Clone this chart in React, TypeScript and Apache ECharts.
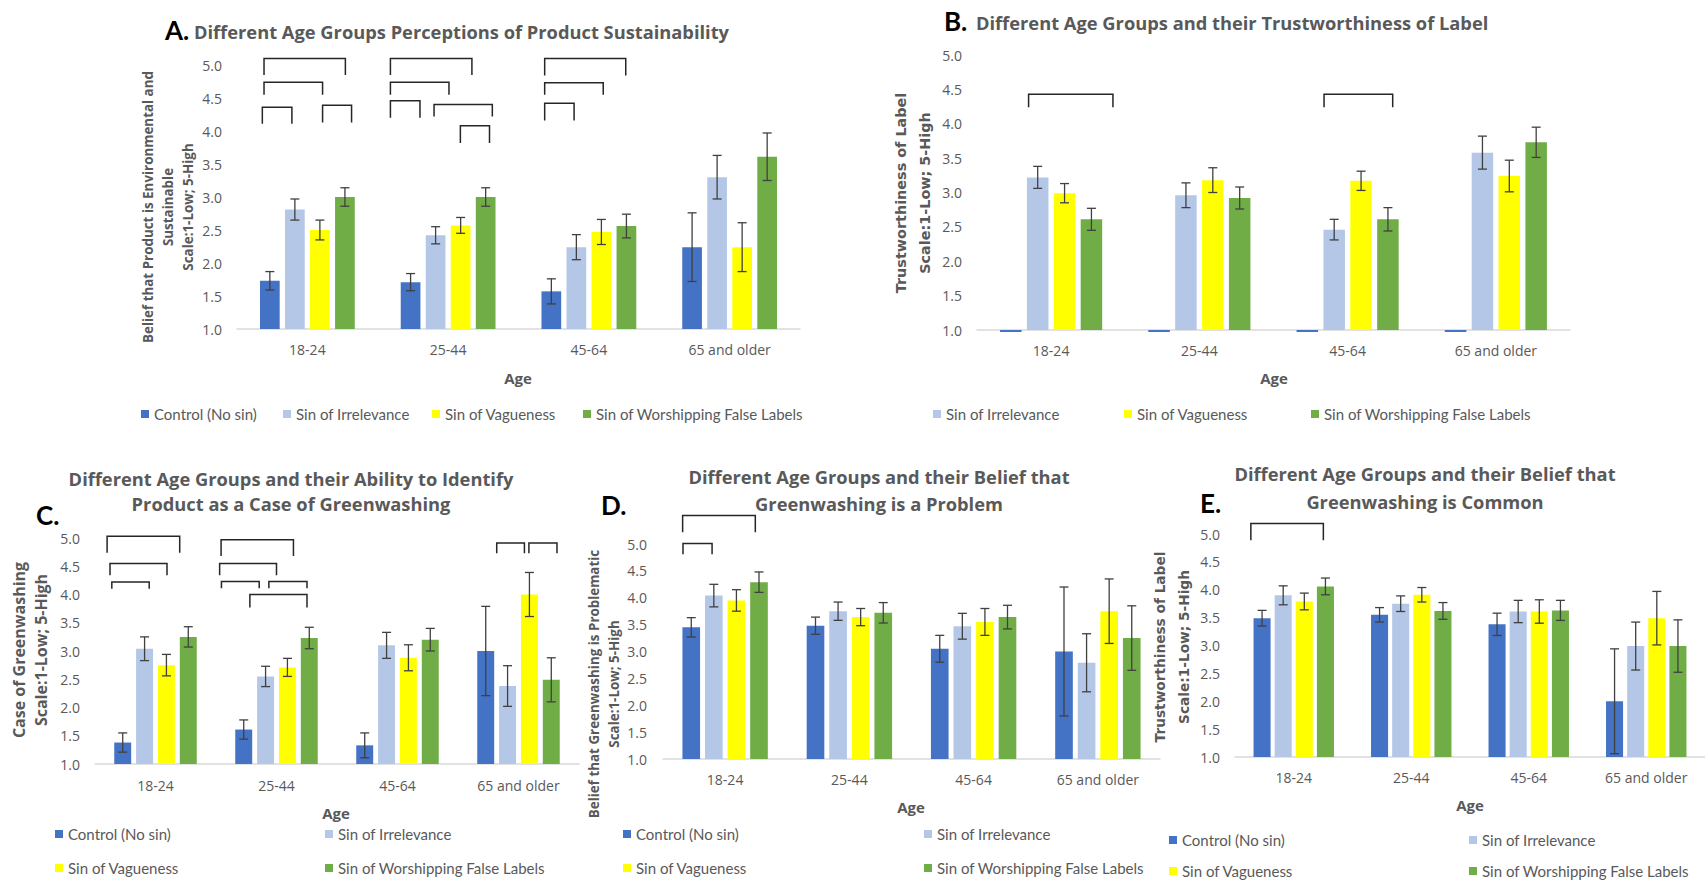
import React, { useEffect, useRef } from 'react';
import * as echarts from 'echarts';

// ---------- DATA ----------
const CATEGORIES = ['18-24', '25-44', '45-64', '65 and older'];
const SERIES_NAMES = ['Control (No sin)', 'Sin of Irrelevance', 'Sin of Vagueness', 'Sin of Worshipping False Labels'];
const COLORS = ['#4472C4', '#B4C7E7', '#FFFF00', '#70AD47'];
const Y_TICKS_MIN = 1;
const Y_TICKS_MAX = 5;
const Y_TICK_STEP = 0.5;

// Panel A: perceptions of product sustainability
const aControl = [1.73, 1.71, 1.57, 2.24];
const aControlErr = [0.14, 0.13, 0.19, 0.52];
const aIrrelevance = [2.81, 2.42, 2.24, 3.3];
const aIrrelevanceErr = [0.16, 0.13, 0.19, 0.33];
const aVagueness = [2.5, 2.57, 2.47, 2.24];
const aVaguenessErr = [0.15, 0.12, 0.19, 0.37];
const aWorshipping = [3.0, 3.0, 2.56, 3.61];
const aWorshippingErr = [0.14, 0.14, 0.18, 0.36];
// [category, left offset, right offset (band fractions), top value, foot value]
const aBrackets = [
  [0, -0.308, 0.27, 5.1, 4.85], [0, -0.308, 0.108, 4.74, 4.55], [0, -0.32, -0.11, 4.36, 4.11], [0, 0.108, 0.314, 4.39, 4.13],
  [1, -0.41, 0.169, 5.1, 4.85], [1, -0.41, 0.006, 4.74, 4.55], [1, -0.41, -0.2, 4.46, 4.2], [1, -0.1, 0.314, 4.4, 4.22], [1, 0.087, 0.294, 4.08, 3.82],
  [2, -0.314, 0.262, 5.1, 4.84], [2, -0.314, 0.102, 4.73, 4.55], [2, -0.314, -0.105, 4.42, 4.16],
];

// Panel B: trustworthiness of label
const bControl = [0.97, 0.97, 0.97, 0.97];
const bControlErr = [0, 0, 0, 0];
const bIrrelevance = [3.22, 2.96, 2.46, 3.58];
const bIrrelevanceErr = [0.16, 0.18, 0.15, 0.24];
const bVagueness = [2.99, 3.18, 3.17, 3.24];
const bVaguenessErr = [0.14, 0.18, 0.14, 0.23];
const bWorshipping = [2.61, 2.92, 2.61, 3.73];
const bWorshippingErr = [0.16, 0.16, 0.17, 0.22];
const bBrackets = [[0, -0.152, 0.417, 4.43, 4.24], [2, -0.159, 0.304, 4.43, 4.24]];

// Panel C: ability to identify greenwashing
const cControl = [1.38, 1.61, 1.33, 3.0];
const cControlErr = [0.17, 0.17, 0.22, 0.79];
const cIrrelevance = [3.04, 2.55, 3.1, 2.38];
const cIrrelevanceErr = [0.21, 0.18, 0.23, 0.36];
const cVagueness = [2.75, 2.71, 2.88, 4.0];
const cVaguenessErr = [0.19, 0.16, 0.23, 0.39];
const cWorshipping = [3.25, 3.23, 3.2, 2.49];
const cWorshippingErr = [0.18, 0.19, 0.2, 0.39];
const cBrackets = [
  [0, -0.4, 0.2, 5.03, 4.74], [0, -0.376, 0.095, 4.55, 4.34], [0, -0.361, -0.052, 4.22, 4.1],
  [1, -0.458, 0.14, 4.97, 4.68], [1, -0.47, 0.0, 4.55, 4.34], [1, -0.455, -0.143, 4.23, 4.11], [1, -0.063, 0.252, 4.23, 4.11], [1, -0.22, 0.252, 4.0, 3.77],
  [3, -0.18, 0.049, 4.91, 4.73], [3, 0.086, 0.318, 4.91, 4.73],
];

// Panel D: greenwashing is a problem
const dControl = [3.45, 3.48, 3.05, 3.0];
const dControlErr = [0.18, 0.16, 0.25, 1.2];
const dIrrelevance = [4.04, 3.75, 3.47, 2.79];
const dIrrelevanceErr = [0.21, 0.17, 0.24, 0.54];
const dVagueness = [3.95, 3.64, 3.55, 3.75];
const dVaguenessErr = [0.2, 0.16, 0.25, 0.6];
const dWorshipping = [4.29, 3.72, 3.64, 3.25];
const dWorshippingErr = [0.19, 0.19, 0.22, 0.6];
const dBrackets = [[0, -0.342, 0.243, 5.53, 5.22], [0, -0.339, -0.105, 5.01, 4.81]];

// Panel E: greenwashing is common
const eControl = [3.49, 3.55, 3.38, 2.0];
const eControlErr = [0.14, 0.13, 0.2, 0.94];
const eIrrelevance = [3.9, 3.75, 3.61, 2.99];
const eIrrelevanceErr = [0.17, 0.14, 0.2, 0.43];
const eVagueness = [3.79, 3.91, 3.61, 3.49];
const eVaguenessErr = [0.15, 0.13, 0.21, 0.48];
const eWorshipping = [4.06, 3.62, 3.63, 2.99];
const eWorshippingErr = [0.15, 0.15, 0.18, 0.47];
const eBrackets = [[0, -0.365, 0.252, 5.19, 4.89]];

// ---------- LAYOUT ----------
const GRAY = '#595959';
const ERR_COLOR = '#404040';
const BRACKET_COLOR = '#262626';
const TITLE_FONT = 'bold 18.3px "Open Sans"';
const LETTER_FONT = 'bold 26px Lato';
const AGE_FONT = 'bold 15px "Open Sans"';

type PanelCfg = {
  letter: string;
  values: number[][];
  errors: number[][];
  brackets: number[][];
  grid: { left: number; top: number; width: number; height: number };
  bw: number;
  gap: number;
  yMargin: number;
  xMargin: number;
  dashControl: boolean;
  legend: { name: number; x: number; y: number }[];
  texts: any[];
};

const rot = Math.PI / 2;

const PANELS: PanelCfg[] = [
  {
    letter: 'A',
    values: [aControl, aIrrelevance, aVagueness, aWorshipping],
    errors: [aControlErr, aIrrelevanceErr, aVaguenessErr, aWorshippingErr],
    brackets: aBrackets,
    grid: { left: 237, top: 65, width: 563, height: 264 },
    bw: 0.14, gap: 0.27, yMargin: 15, xMargin: 13,
    dashControl: false,
    legend: [{ name: 0, x: 141, y: 414 }, { name: 1, x: 283, y: 414 }, { name: 2, x: 432, y: 414 }, { name: 3, x: 583, y: 414 }],
    texts: [
      { text: 'A.', x: 165, y: 30, font: LETTER_FONT, fill: '#000', align: 'left' },
      { text: 'Different Age Groups Perceptions of Product Sustainability', x: 194, y: 31, font: TITLE_FONT, align: 'left' },
      { text: 'Belief that Product is Environmental and\nSustainable\nScale:1-Low; 5-High', x: 168, y: 207, font: 'bold 13.4px "Open Sans"', lineHeight: 20, rotation: rot, align: 'center' },
      { text: 'Age', x: 518, y: 378, font: AGE_FONT, align: 'center' },
    ],
  },
  {
    letter: 'B',
    values: [bControl, bIrrelevance, bVagueness, bWorshipping],
    errors: [bControlErr, bIrrelevanceErr, bVaguenessErr, bWorshippingErr],
    brackets: bBrackets,
    grid: { left: 977, top: 55, width: 593, height: 275 },
    bw: 0.145, gap: 0.25, yMargin: 15, xMargin: 13,
    dashControl: true,
    legend: [{ name: 1, x: 933, y: 414 }, { name: 2, x: 1124, y: 414 }, { name: 3, x: 1311, y: 414 }],
    texts: [
      { text: 'B.', x: 944, y: 21, font: LETTER_FONT, fill: '#000', align: 'left' },
      { text: 'Different Age Groups and their Trustworthiness of Label', x: 976, y: 22, font: TITLE_FONT, align: 'left' },
      { text: 'Trustworthiness of Label\nScale:1-Low; 5-High', x: 912.5, y: 193, font: 'bold 14.4px "DejaVu Sans"', lineHeight: 24, rotation: rot, align: 'center' },
      { text: 'Age', x: 1274, y: 378, font: AGE_FONT, align: 'center' },
    ],
  },
  {
    letter: 'C',
    values: [cControl, cIrrelevance, cVagueness, cWorshipping],
    errors: [cControlErr, cIrrelevanceErr, cVaguenessErr, cWorshippingErr],
    brackets: cBrackets,
    grid: { left: 95, top: 538, width: 484, height: 226 },
    bw: 0.14, gap: 0.29, yMargin: 15, xMargin: 14,
    dashControl: false,
    legend: [{ name: 0, x: 55, y: 834 }, { name: 1, x: 325, y: 834 }, { name: 2, x: 55, y: 868 }, { name: 3, x: 325, y: 868 }],
    texts: [
      { text: 'C.', x: 36, y: 515, font: LETTER_FONT, fill: '#000', align: 'left' },
      { text: 'Different Age Groups and their Ability to Identify\nProduct as a Case of Greenwashing', x: 291, y: 490.5, font: TITLE_FONT, lineHeight: 25, align: 'center' },
      { text: 'Case of Greenwashing\nScale:1-Low; 5-High', x: 30, y: 650, font: 'bold 16px "Open Sans"', lineHeight: 22, rotation: rot, align: 'center' },
      { text: 'Age', x: 336, y: 813, font: AGE_FONT, align: 'center' },
    ],
  },
  {
    letter: 'D',
    values: [dControl, dIrrelevance, dVagueness, dWorshipping],
    errors: [dControlErr, dIrrelevanceErr, dVaguenessErr, dWorshippingErr],
    brackets: dBrackets,
    grid: { left: 663, top: 544, width: 497, height: 215 },
    bw: 0.142, gap: 0.28, yMargin: 16, xMargin: 13,
    dashControl: false,
    legend: [{ name: 0, x: 623, y: 834 }, { name: 1, x: 924, y: 834 }, { name: 2, x: 623, y: 868 }, { name: 3, x: 924, y: 868 }],
    texts: [
      { text: 'D.', x: 601, y: 505, font: LETTER_FONT, fill: '#000', align: 'left' },
      { text: 'Different Age Groups and their Belief that\nGreenwashing is a Problem', x: 879, y: 489.5, font: TITLE_FONT, lineHeight: 27, align: 'center' },
      { text: 'Belief that Greenwashing is Problematic\nScale:1-Low; 5-High', x: 603.5, y: 684, font: 'bold 13.4px "Open Sans"', lineHeight: 20, rotation: rot, align: 'center' },
      { text: 'Age', x: 911, y: 807, font: AGE_FONT, align: 'center' },
    ],
  },
  {
    letter: 'E',
    values: [eControl, eIrrelevance, eVagueness, eWorshipping],
    errors: [eControlErr, eIrrelevanceErr, eVaguenessErr, eWorshippingErr],
    brackets: eBrackets,
    grid: { left: 1235, top: 534, width: 470, height: 223 },
    bw: 0.145, gap: 0.24, yMargin: 15, xMargin: 13,
    dashControl: false,
    legend: [{ name: 0, x: 1169, y: 840 }, { name: 1, x: 1469, y: 840 }, { name: 2, x: 1169, y: 871 }, { name: 3, x: 1469, y: 871 }],
    texts: [
      { text: 'E.', x: 1200, y: 503, font: LETTER_FONT, fill: '#000', align: 'left' },
      { text: 'Different Age Groups and their Belief that\nGreenwashing is Common', x: 1425, y: 487, font: TITLE_FONT, lineHeight: 28, align: 'center' },
      { text: 'Trustworthiness of Label\nScale:1-Low; 5-High', x: 1171.5, y: 647, font: 'bold 13.7px "DejaVu Sans"', lineHeight: 24, rotation: rot, align: 'center' },
      { text: 'Age', x: 1470, y: 805, font: AGE_FONT, align: 'center' },
    ],
  },
];

function barOffsets(bw: number, gap: number, n: number): number[] {
  const total = n * bw + (n - 1) * gap * bw;
  const out: number[] = [];
  for (let i = 0; i < n; i++) out.push(-total / 2 + bw / 2 + i * bw * (1 + gap));
  return out;
}

function buildOption() {
  const grids: any[] = [];
  const xAxes: any[] = [];
  const yAxes: any[] = [];
  const series: any[] = [];
  const legends: any[] = [];
  const graphics: any[] = [];

  PANELS.forEach((p, pi) => {
    grids.push({ ...p.grid });
    xAxes.push({
      type: 'category', gridIndex: pi, data: CATEGORIES,
      axisTick: { show: false },
      axisLine: { lineStyle: { color: '#D9D9D9', width: 1.5 } },
      axisLabel: { color: GRAY, fontFamily: 'Open Sans', fontSize: 14, margin: p.xMargin, interval: 0 },
      splitLine: { show: false },
    });
    yAxes.push({
      type: 'value', gridIndex: pi, min: Y_TICKS_MIN, max: Y_TICKS_MAX, interval: Y_TICK_STEP,
      axisLine: { show: false }, axisTick: { show: false }, splitLine: { show: false },
      axisLabel: { color: GRAY, fontFamily: 'Open Sans', fontSize: 14, margin: p.yMargin, formatter: (v: number) => v.toFixed(1) },
    });
    const offs = barOffsets(p.bw, p.gap, 4);
    p.values.forEach((vals, si) => {
      series.push({
        type: 'bar', name: SERIES_NAMES[si], xAxisIndex: pi, yAxisIndex: pi,
        data: vals, barWidth: `${p.bw * 100}%`, barGap: `${p.gap * 100}%`,
        itemStyle: { color: COLORS[si] }, silent: true, clip: true,
      });
    });
    if (p.dashControl) {
      series.push({
        type: 'custom', name: 'dash' + p.letter, xAxisIndex: pi, yAxisIndex: pi, clip: false, silent: true,
        encode: { x: 0, y: 1 },
        data: p.values[0].map((v, ci) => [ci, v]),
        renderItem: (params: any, api: any) => {
          const c = api.value(0), v = api.value(1);
          const band = api.size([1, 0])[0];
          const base = api.coord([c, Y_TICKS_MIN]);
          const tip = api.coord([c, v]);
          const w = p.bw * band;
          const x = base[0] + offs[0] * band - w / 2;
          return { type: 'rect', shape: { x, y: base[1], width: w, height: Math.max(1.5, tip[1] - base[1]) }, style: { fill: COLORS[0] } };
        },
      });
    }
    const errData: number[][] = [];
    p.values.forEach((vals, si) => {
      vals.forEach((v, ci) => {
        if (p.errors[si][ci] > 0) errData.push([ci, v, p.errors[si][ci], si]);
      });
    });
    series.push({
      type: 'custom', name: 'err' + p.letter, xAxisIndex: pi, yAxisIndex: pi, clip: false, silent: true, z: 5,
      encode: { x: 0, y: 1 },
      data: errData,
      renderItem: (params: any, api: any) => {
        const c = api.value(0), v = api.value(1), e = api.value(2), si = api.value(3);
        const band = api.size([1, 0])[0];
        const mid = api.coord([c, v]);
        const x = mid[0] + offs[si] * band;
        const yt = api.coord([c, v + e])[1];
        const yb = api.coord([c, v - e])[1];
        const cap = 4.5;
        const st = { stroke: ERR_COLOR, lineWidth: 1.3 };
        return {
          type: 'group', children: [
            { type: 'line', shape: { x1: x, y1: yt, x2: x, y2: yb }, style: st },
            { type: 'line', shape: { x1: x - cap, y1: yt, x2: x + cap, y2: yt }, style: st },
            { type: 'line', shape: { x1: x - cap, y1: yb, x2: x + cap, y2: yb }, style: st },
          ],
        };
      },
    });
    series.push({
      type: 'custom', name: 'sig' + p.letter, xAxisIndex: pi, yAxisIndex: pi, clip: false, silent: true, z: 5,
      encode: { x: 0, y: 3 },
      data: p.brackets,
      renderItem: (params: any, api: any) => {
        const c = api.value(0), o1 = api.value(1), o2 = api.value(2), yTop = api.value(3), yFoot = api.value(4);
        const band = api.size([1, 0])[0];
        const t = api.coord([c, yTop]);
        const f = api.coord([c, yFoot]);
        const x1 = t[0] + o1 * band, x2 = t[0] + o2 * band;
        return {
          type: 'polyline',
          shape: { points: [[x1, f[1]], [x1, t[1]], [x2, t[1]], [x2, f[1]]] },
          style: { stroke: BRACKET_COLOR, lineWidth: 1.5, fill: 'none' },
        };
      },
    });
    p.legend.forEach((it) => {
      legends.push({
        data: [SERIES_NAMES[it.name]], left: it.x, top: it.y - 9, padding: 0,
        icon: 'rect', itemWidth: 8, itemHeight: 8, itemGap: 0, selectedMode: false,
        textStyle: { fontFamily: 'Lato', fontSize: 15, color: GRAY, lineHeight: 18 },
      });
    });
    p.texts.forEach((t) => {
      graphics.push({
        type: 'text', x: t.x, y: t.y, rotation: t.rotation || 0, silent: true,
        style: {
          text: t.text, font: t.font, fill: t.fill || GRAY,
          textAlign: t.align || 'left', textVerticalAlign: 'middle',
          lineHeight: t.lineHeight,
        },
      });
    });
  });

  return {
    animation: false,
    backgroundColor: '#ffffff',
    grid: grids,
    xAxis: xAxes,
    yAxis: yAxes,
    series,
    legend: legends,
    graphic: { elements: graphics },
  };
}

export default function App() {
  const ref = useRef<HTMLDivElement | null>(null);
  useEffect(() => {
    if (!ref.current) return;
    const chart = echarts.init(ref.current, undefined, { renderer: 'svg' });
    chart.setOption(buildOption() as any);
    return () => chart.dispose();
  }, []);
  return (
    <div
      ref={ref}
      style={{ position: 'absolute', left: 0, top: 0, width: 1705, height: 880, background: '#fff' }}
    />
  );
}
